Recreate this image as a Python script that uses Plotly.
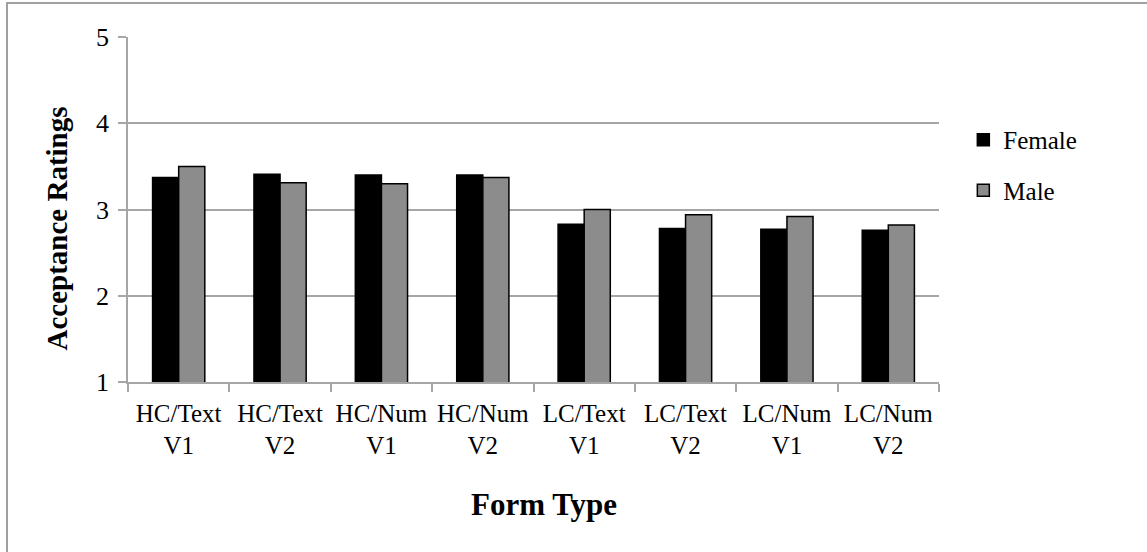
import plotly.graph_objects as go

# Acceptance ratings by form type, split by gender
form_types = ["HC/Text<br>V1", "HC/Text<br>V2", "HC/Num<br>V1", "HC/Num<br>V2",
              "LC/Text<br>V1", "LC/Text<br>V2", "LC/Num<br>V1", "LC/Num<br>V2"]
female = [3.37, 3.41, 3.40, 3.40, 2.83, 2.78, 2.77, 2.76]
male = [3.50, 3.31, 3.30, 3.37, 3.00, 2.94, 2.92, 2.82]
y_ticks = [1, 2, 3, 4, 5]

FONT = "Liberation Serif, Times New Roman, serif"
GRID = "#a6a6a6"

fig = go.Figure()
fig.add_trace(go.Bar(name="Female", x=form_types, y=female, legendgroup="f",
                     marker=dict(color="#000000", line=dict(color="#000000", width=1.5))))
fig.add_trace(go.Bar(name="Male", x=form_types, y=male, legendgroup="m",
                     marker=dict(color="#8c8c8c", line=dict(color="#000000", width=1.5))))

fig.update_layout(
    width=1147, height=552,
    margin=dict(l=128, r=208, t=37, b=170),
    paper_bgcolor="white", plot_bgcolor="white",
    barmode="group", bargap=0.485, bargroupgap=0,
    font=dict(family=FONT, size=25, color="#000000"),
    showlegend=True,
    legend=dict(x=1.03, y=0.629, xanchor="left", yanchor="middle",
                font=dict(family=FONT, size=25), itemwidth=30,
                tracegroupgap=15, bgcolor="rgba(0,0,0,0)"),
    xaxis=dict(
        type="category", tickson="boundaries", tickangle=0,
        showline=True, linecolor=GRID, linewidth=1.5,
        ticks="outside", ticklen=8, tickcolor=GRID, tickwidth=1.5,
        ticklabelstandoff=8,
        showgrid=False, tickfont=dict(family=FONT, size=25),
    ),
    yaxis=dict(
        range=[1, 5], tickvals=y_ticks,
        showline=True, linecolor=GRID, linewidth=1.5,
        ticks="outside", ticklen=8, tickcolor=GRID, tickwidth=1.5,
        ticklabelstandoff=4,
        showgrid=True, gridcolor=GRID, gridwidth=1.5,
        tickfont=dict(family=FONT, size=26), zeroline=False,
    ),
    shapes=[dict(type="rect", xref="paper", yref="paper",
                 x0=-0.1492, x1=2.0, y0=-2.0, y1=1.0986,
                 line=dict(color="#a0a0a0", width=2), fillcolor="rgba(0,0,0,0)",
                 layer="below")],
    annotations=[
        dict(text="<b>Acceptance Ratings</b>", xref="paper", yref="paper",
             x=-0.0875, y=0.445, textangle=-90, showarrow=False,
             xanchor="center", yanchor="middle",
             font=dict(family=FONT, size=29)),
        dict(text="<b>Form Type</b>", xref="paper", yref="paper",
             x=0.513, y=-0.355, showarrow=False,
             xanchor="center", yanchor="middle",
             font=dict(family=FONT, size=31)),
    ],
)

fig.write_html("out.html")
